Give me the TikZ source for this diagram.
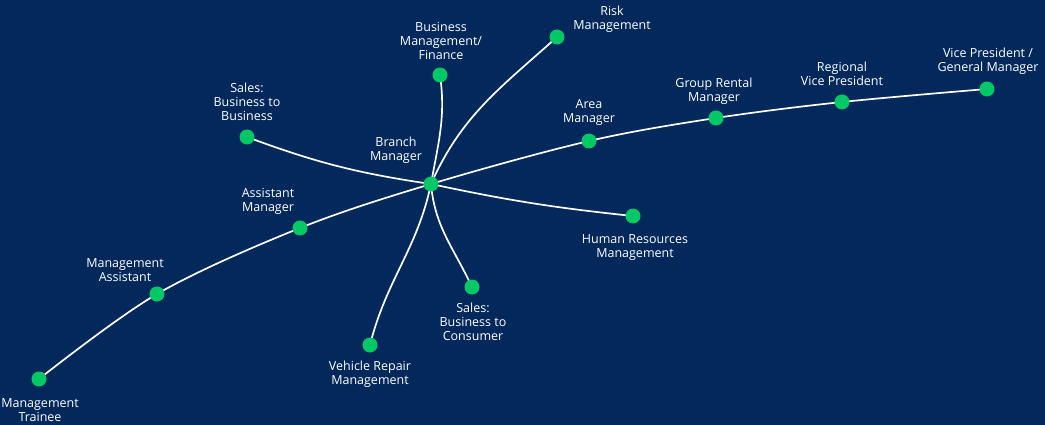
\documentclass[tikz,border=0pt]{standalone}
\usepackage{fontspec}
\setmainfont{Open Sans}
\usetikzlibrary{positioning}
\definecolor{navy}{HTML}{03295C}
\definecolor{dotgreen}{HTML}{00C864}
\tikzset{
  dot/.style={circle,fill=dotgreen,inner sep=0pt,minimum size=15pt},
  lbl/.style={text=white,align=center,font=\fontsize{12.5}{14}\selectfont,inner sep=0pt},
  link/.style={draw=white,line width=1.7pt}
}
\begin{document}
\begin{tikzpicture}[x=1pt,y=-1pt]
      \fill[navy] (0,0) rectangle (1045,425);
      \useasboundingbox (0,0) rectangle (1045,425);

      \coordinate (trainee) at (39,379);
      \coordinate (massist) at (157,294);
      \coordinate (asst) at (300,228);
      \coordinate (branch) at (431,184);
      \coordinate (area) at (589,141);
      \coordinate (group) at (716,118);
      \coordinate (regional) at (842,102);
      \coordinate (vp) at (987,89);
      \coordinate (btob) at (247,137);
      \coordinate (finance) at (440,75);
      \coordinate (risk) at (557,37);
      \coordinate (hr) at (633,216);
      \coordinate (btoc) at (472,287);
      \coordinate (repair) at (370,345);

      \draw[link] plot[smooth,tension=0.55] coordinates {(trainee) (massist) (asst) (branch) (area) (group) (regional) (vp)};
      \draw[link] (branch) to[bend left=6] (btob);
      \draw[link] (branch) to[out=80,in=-82] (finance);
      \draw[link] (branch) to[out=66,in=-138] (risk);
      \draw[link] (branch) to[bend right=3] (hr);
      \draw[link] (branch) to[out=-85,in=115] (btoc);
      \draw[link] (branch) to[out=-102,in=76] (repair);

      \foreach \n in {trainee,massist,asst,branch,area,group,regional,vp,btob,finance,risk,hr,btoc,repair}
        \node[dot] at (\n) {};

      \node[lbl] at (40,410) {Management\\Trainee};
      \node[lbl] at (125,270) {Management\\Assistant};
      \node[lbl] at (268,201) {Assistant\\Manager};
      \node[lbl] at (396,150) {Branch\\Manager};
      \node[lbl] at (247,102) {Sales:\\Business to\\Business};
      \node[lbl] at (441,41) {Business\\Management/\\Finance};
      \node[lbl] at (612,19) {Risk\\Management};
      \node[lbl] at (589,113) {Area\\Manager};
      \node[lbl] at (714,91) {Group Rental\\Manager};
      \node[lbl] at (842,74) {Regional\\Vice President};
      \node[lbl] at (988,61) {Vice President /\\General Manager};
      \node[lbl] at (635,248) {Human Resources\\Management};
      \node[lbl] at (473,322) {Sales:\\Business to\\Consumer};
      \node[lbl] at (370,374) {Vehicle Repair\\Management};
\end{tikzpicture}
\end{document}
